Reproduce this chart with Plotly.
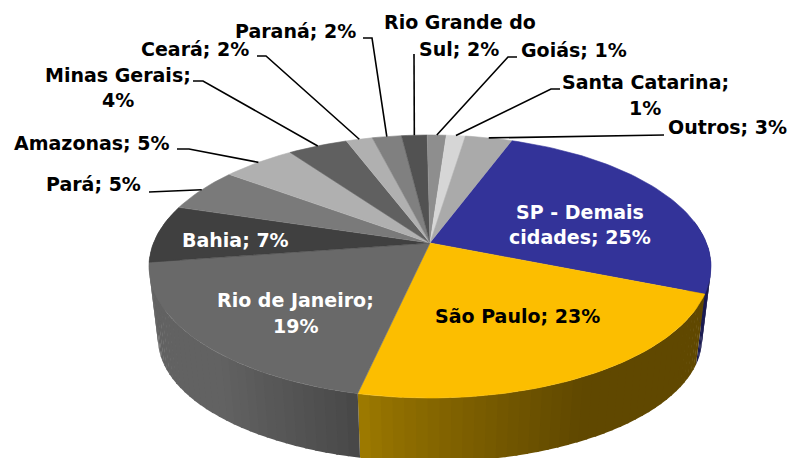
import math
import plotly.graph_objects as go

# ---- data ----
categories = ["SP - Demais cidades", "São Paulo", "Rio de Janeiro", "Bahia", "Pará", "Amazonas",
              "Minas Gerais", "Ceará", "Paraná", "Rio Grande do Sul", "Goiás", "Santa Catarina", "Outros"]
values = [25.5, 22.35, 19.2, 7.1, 5.4, 5.0, 4.1, 1.8, 2.0, 1.75, 1.3, 1.3, 3.2]
colors = ["#333399", "#FCBE00", "#696969", "#404040", "#7A7A7A", "#B0B0B0", "#606060",
          "#B0B0B0", "#808080", "#525252", "#8E8E8E", "#D6D6D6", "#AAAAAA"]
# wall colour at left and right end of the slice's wall
wall_left = {0: "#1A1A50", 1: "#A07C00", 2: "#626262", 3: "#626262"}
wall_right = {0: "#1A1A50", 1: "#604800", 2: "#484848", 3: "#626262"}

# ---- geometry of the projection ----
START = 20.2
CX, CY, A, B, K = 430.0, 243.0, 276.5, 127.3, -0.1787
TOP_MID, BOT_MID, SX, SY = 266.5, 339.0, 0.968, 0.935
FONT = "DejaVu Sans"
SIZE = 19


def top(t):
    r = math.radians(t)
    u, v = math.sin(r), -math.cos(r)
    w = 1 + K * v
    return CX + A * u / w, CY + B * v / w


def bottom(t):
    x, y = top(t)
    return CX + (x - CX) * SX, BOT_MID + (y - TOP_MID) * SY


def hex2(c):
    return [int(c[i:i + 2], 16) for i in (1, 3, 5)]


def mix(c1, c2, f):
    f = max(0, min(1, f))
    a_, b_ = hex2(c1), hex2(c2)
    return "rgb(%d,%d,%d)" % tuple(a_[i] + (b_[i] - a_[i]) * f for i in range(3))


total = sum(values)
edges = [START]
for val in values:
    edges.append(edges[-1] + val * 360 / total)

fig = go.Figure()


def poly(xs, ys, color, lw=0.6):
    fig.add_trace(go.Scatter(x=xs, y=ys, mode="lines", fill="toself", fillcolor=color,
                             line=dict(color=color, width=lw), hoverinfo="skip", showlegend=False))


# side walls (front half only)
for i in wall_left:
    t0, t1 = max(edges[i], 80), min(edges[i + 1], 285)
    n = max(2, int((t1 - t0) / 2))
    for j in range(n):
        a0 = t0 + (t1 - t0) * j / n
        a1 = t0 + (t1 - t0) * (j + 1) / n
        xm = top((a0 + a1) / 2)[0]
        if i == 1:
            f = (xm - 357) / 230.0
            f = f ** 0.8 if f > 0 else 0
        else:
            f = (xm - 220) / 137.0
        c = mix(wall_left[i], wall_right[i], f)
        steps = [a0, (a0 + a1) / 2, a1 + 0.4 * (j < n - 1)]
        tp = [top(s) for s in steps]
        bt = [bottom(s) for s in reversed(steps)]
        poly([p[0] for p in tp + bt], [p[1] for p in tp + bt], c, lw=0)

# top face
for i in range(len(values)):
    n = max(3, int((edges[i + 1] - edges[i]) / 1.5))
    arc = [top(edges[i] + (edges[i + 1] - edges[i]) * j / n) for j in range(n + 1)]
    poly([CX] + [p[0] for p in arc], [CY] + [p[1] for p in arc], colors[i])

# leader lines: label-side points, then the rim point at the slice's middle
leaders = {
    8: [(363, 38), (372, 38)],
    7: [(257, 56), (266, 56)],
    6: [(193, 81), (203, 81)],
    5: [(177, 149), (189, 149)],
    4: [(149, 192)],
    9: [(414, 54)],
    10: [(517, 57), (508, 57)],
    11: [(560, 89), (551, 89)],
    12: [(664, 135)],
}
for i, pts in leaders.items():
    rim = top((edges[i] + edges[i + 1]) / 2)
    line = pts + [rim]
    fig.add_trace(go.Scatter(x=[p[0] for p in line], y=[p[1] for p in line], mode="lines",
                             line=dict(color="black", width=1.6), hoverinfo="skip", showlegend=False))

# labels: text line, centre x, centre y, colour
labels = [
    ("Paraná; 2%", 295, 31, "black"),
    ("Ceará; 2%", 195, 49, "black"),
    ("Minas Gerais;", 118, 75, "black"),
    ("4%", 118, 100, "black"),
    ("Amazonas; 5%", 92, 143, "black"),
    ("Pará; 5%", 93, 184, "black"),
    ("Rio Grande do", 460, 22, "black"),
    ("Sul; 2%", 459, 49, "black"),
    ("Goiás; 1%", 574, 50, "black"),
    ("Santa Catarina;", 645, 82, "black"),
    ("1%", 645, 108, "black"),
    ("Outros; 3%", 727, 127, "black"),
    ("SP - Demais", 580, 212, "white"),
    ("cidades; 25%", 580, 237, "white"),
    ("São Paulo; 23%", 517, 316, "black"),
    ("Rio de Janeiro;", 295, 300, "white"),
    ("19%", 295, 326, "white"),
    ("Bahia; 7%", 235, 240, "white"),
]
for txt, x, y, c in labels:
    fig.add_annotation(x=x, y=y, text="<b>%s</b>" % txt, showarrow=False, xanchor="center", yanchor="middle",
                       font=dict(family=FONT, size=SIZE, color=c))

fig.update_layout(width=791, height=458, margin=dict(l=0, r=0, t=0, b=0),
                  paper_bgcolor="white", plot_bgcolor="white", showlegend=False,
                  xaxis=dict(range=[0, 791], visible=False, fixedrange=True),
                  yaxis=dict(range=[458, 0], visible=False, fixedrange=True))
fig.write_html("out.html", post_script="document.body.style.margin='0';",
               config={"displayModeBar": False})
